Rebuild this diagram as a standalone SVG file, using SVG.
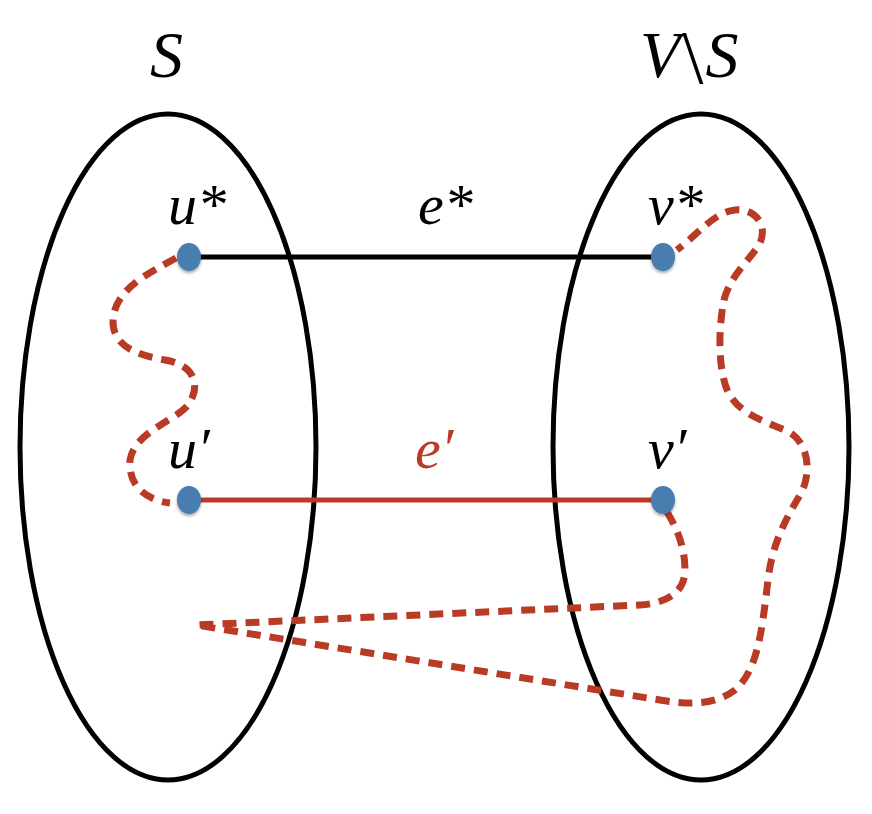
<svg xmlns="http://www.w3.org/2000/svg" width="872" height="814" viewBox="0 0 872 814">
<style>
.set{fill:none;stroke:#000;stroke-width:5}
.red{fill:#B93A25}
.node{fill:#4A7DB0;filter:url(#sh)}
.dash{fill:none;stroke:#B93A25;stroke-width:7;stroke-dasharray:14 9}
</style>
<defs>
<filter id="sh" x="-50%" y="-50%" width="200%" height="200%">
<feDropShadow dx="0" dy="2" stdDeviation="1.5" flood-color="#000" flood-opacity="0.35"/>
</filter>
</defs>
<rect width="872" height="814" fill="#fff"/>
<g font-family="Liberation Serif, serif" font-style="italic" font-size="58">
<g id="setS">
<ellipse class="set" cx="168" cy="447" rx="148" ry="333"/>
<text font-size="66" x="150" y="77">S</text>
</g>
<g id="setVS">
<ellipse class="set" cx="701" cy="447" rx="148" ry="333"/>
<text font-size="66" x="640" y="77">V<tspan font-style="normal" font-size="76" dx="2" dy="6">\</tspan><tspan dx="2" dy="-6">S</tspan></text>
</g>
<g id="connectors">
<line x1="189" y1="257" x2="663" y2="257" stroke="#000" stroke-width="5"/>
<line x1="189" y1="500" x2="663" y2="500" stroke="#B93A25" stroke-width="5"/>
<path class="dash" d="M176,258 C145,275 115,290 113,320 C112,345 135,355 165,360 C195,365 200,385 190,402 C180,420 135,430 130,460 C128,485 145,500 170,503"/>
<path class="dash" d="M667,512 C675,525 685,545 685,570 C685,590 670,603 640,605 L196,625 L660,700 C690,705 715,705 735,690 C758,670 762,630 768,580 C772,545 785,520 800,495 C812,475 810,440 785,430 C760,420 738,412 728,392 C718,370 718,330 724,300 C730,275 752,258 760,243 C768,225 755,208 735,210 C715,212 700,232 677,250"/>
<text x="418" y="224">e*</text>
<text class="red" x="415" y="468">e′</text>
</g>
<g id="u-star">
<ellipse class="node" cx="189" cy="257" rx="12" ry="14"/>
<text x="168" y="224">u*</text>
</g>
<g id="v-star">
<ellipse class="node" cx="663" cy="257" rx="12" ry="14"/>
<text x="648" y="224">v*</text>
</g>
<g id="u-prime">
<ellipse class="node" cx="189" cy="500" rx="12" ry="14"/>
<text x="168" y="468">u′</text>
</g>
<g id="v-prime">
<ellipse class="node" cx="663" cy="500" rx="12" ry="14"/>
<text x="648" y="468">v′</text>
</g>
</g>
</svg>
